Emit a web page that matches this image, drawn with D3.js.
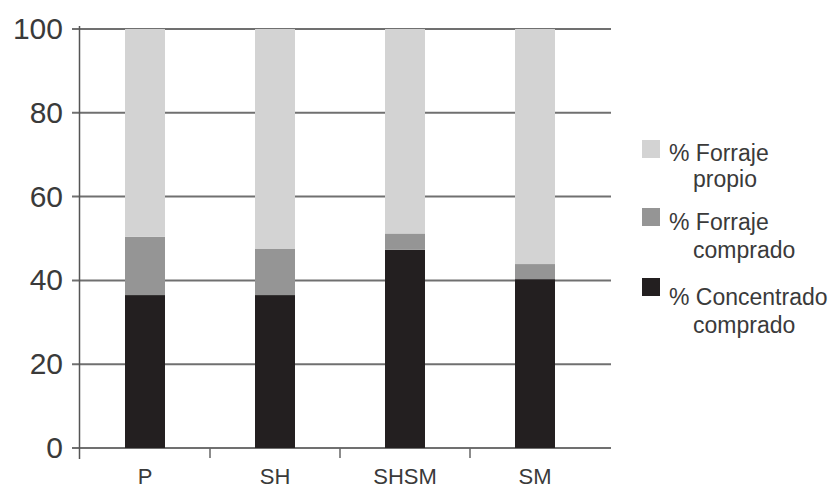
<!DOCTYPE html>
<html><head><meta charset="utf-8">
<script src="https://cdn.jsdelivr.net/npm/d3@7"></script>
<style>body{margin:0;background:#fff}svg{display:block}text{font-family:"Liberation Sans",Arial,sans-serif}</style>
</head><body><svg id="c" width="838" height="488"></svg>
<script>
const categories = ["P","SH","SHSM","SM"];
const concentradoComprado = [36.5, 36.5, 47.3, 40.3];
const forrajeComprado = [13.9, 11.0, 3.9, 3.6];
const forrajePropio = [49.6, 52.5, 48.8, 56.1];
const yTicks = [0,20,40,60,80,100];
const seriesNames = ["% Concentrado comprado","% Forraje comprado","% Forraje propio"];
const legendLines = [["% Forraje","propio"],["% Forraje","comprado"],["% Concentrado","comprado"]];
const colors = ["#231f20","#959595","#d3d3d3"];

const svg = d3.select("#c");
const x = d3.scaleBand().domain(categories).range([80,600]);
const y = d3.scaleLinear().domain([0,100]).range([448,29]);
const barW = 40;
const txt = "#3a3a3a";

// gridlines
svg.append("g").selectAll("line").data(yTicks).join("line")
  .attr("x1",72).attr("x2",611).attr("y1",d=>y(d)).attr("y2",d=>y(d))
  .attr("stroke","#707070").attr("stroke-width",2);

const data = categories.map((c,i)=>({cat:c, s0:concentradoComprado[i], s1:forrajeComprado[i], s2:forrajePropio[i]}));
const stack = d3.stack().keys(["s0","s1","s2"])(data);
svg.append("g").selectAll("g").data(stack).join("g").attr("fill",(d,i)=>colors[i])
  .selectAll("rect").data(d=>d).join("rect")
  .attr("x",d=>x(d.data.cat)+x.bandwidth()/2-barW/2).attr("width",barW)
  .attr("y",d=>y(Math.min(100,d[1]))).attr("height",d=>y(d[0])-y(Math.min(100,d[1])));

// y axis
svg.append("line").attr("x1",79.5).attr("x2",79.5).attr("y1",y(100)-3).attr("y2",y(0)+11)
  .attr("stroke","#555").attr("stroke-width",1.5);
svg.append("g").selectAll("text").data(yTicks).join("text")
  .attr("x",63).attr("y",d=>y(d)+10).attr("text-anchor","end")
  .attr("font-size",30).attr("fill",txt).text(d=>d);

// x ticks at band boundaries
svg.append("g").selectAll("line").data(categories.slice(1)).join("line")
  .attr("x1",d=>x(d)).attr("x2",d=>x(d)).attr("y1",y(0)).attr("y2",y(0)+10)
  .attr("stroke","#666").attr("stroke-width",1.5);
svg.append("g").selectAll("text").data(categories).join("text")
  .attr("x",d=>x(d)+x.bandwidth()/2).attr("y",484).attr("text-anchor","middle")
  .attr("font-size",22).attr("fill",txt).text(d=>d);

// legend
const sqY = [140,208,278];
const base1 = [161,230,305];
const base2 = [187,258,333];
const lg = svg.append("g");
[2,1,0].forEach((si,k)=>{
  lg.append("rect").attr("x",642).attr("y",sqY[k]).attr("width",18).attr("height",18).attr("fill",colors[si]);
  lg.append("text").attr("x",669).attr("y",base1[k]).attr("font-size",23).attr("fill",txt).text(legendLines[k][0]);
  lg.append("text").attr("x",693).attr("y",base2[k]).attr("font-size",23).attr("fill",txt).text(legendLines[k][1]);
});
</script></body></html>
